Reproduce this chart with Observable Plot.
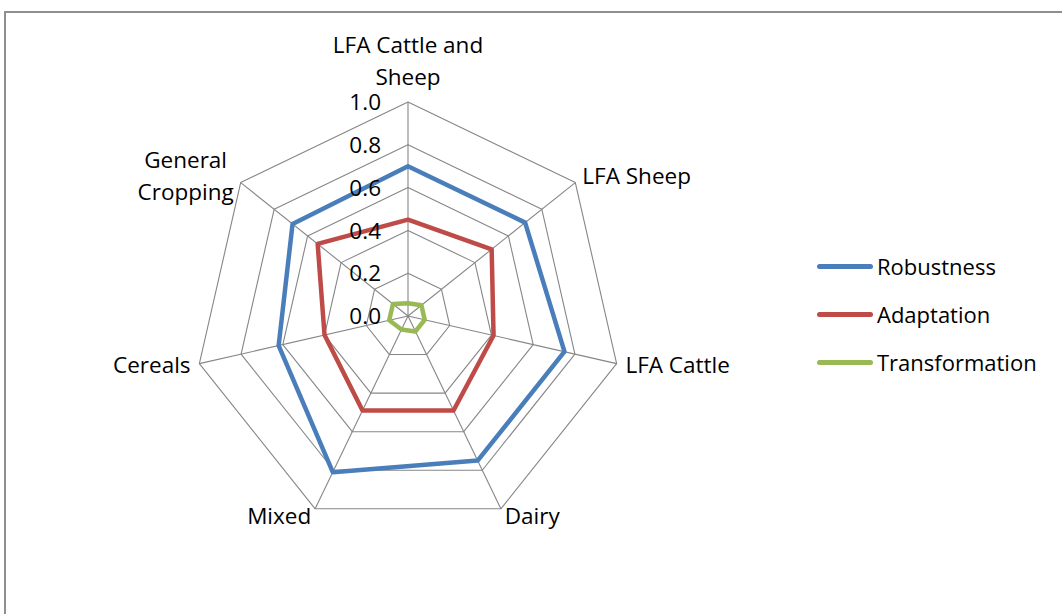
<!DOCTYPE html>
<html>
<head>
<meta charset="utf-8">
<script src="https://cdn.jsdelivr.net/npm/d3@7"></script>
<script src="https://cdn.jsdelivr.net/npm/@observablehq/plot@0.6"></script>
<style>
  html, body { margin: 0; padding: 0; background: #fff; overflow: hidden; }
  body { width: 1062px; height: 614px; position: relative; font-family: "Open Sans", sans-serif; }
  #frame { position: absolute; left: 4px; top: 11px; width: 1200px; height: 800px;
           border-left: 2px solid #8f8f8f; border-top: 2px solid #8f8f8f; box-sizing: border-box; }
  #chart { position: absolute; left: 0; top: 0; }
  #legend { position: absolute; left: 817px; top: 242px; font-size: 22px; color: #000; }
  .item { display: flex; align-items: center; height: 48px; }
  .swatch { width: 56px; height: 5px; border-radius: 3px; margin-right: 4px; }
</style>
</head>
<body>
<div id="frame"></div>
<div id="chart"></div>
<div id="legend"></div>
<script>
// ---- data ----
const categories = ["LFA Cattle and Sheep", "LFA Sheep", "LFA Cattle", "Dairy", "Mixed", "Cereals", "General Cropping"];
const categoryLabels = ["LFA Cattle and\nSheep", "LFA Sheep", "LFA Cattle", "Dairy", "Mixed", "Cereals", "General\nCropping"];
const seriesNames = ["Robustness", "Adaptation", "Transformation"];
const robustness = [0.70, 0.70, 0.75, 0.75, 0.81, 0.62, 0.69];
const adaptation = [0.45, 0.50, 0.41, 0.49, 0.49, 0.40, 0.54];
const transformation = [0.06, 0.08, 0.08, 0.08, 0.07, 0.09, 0.09];
const ticks = [0.0, 0.2, 0.4, 0.6, 0.8, 1.0];
const tickLabels = ["0.0", "0.2", "0.4", "0.6", "0.8", "1.0"];
const colors = ["#4A7EBB", "#BE4B48", "#98B954"];

// ---- geometry ----
const cx = 407.5, cy = 315.5, R = 214;
const n = categories.length;
const angle = i => (i * 2 * Math.PI) / n; // clockwise from top
const px = (r, i) => r * Math.sin(angle(i));
const py = (r, i) => r * Math.cos(angle(i));

const seriesValues = [robustness, adaptation, transformation];
const seriesData = seriesNames.flatMap((s, k) =>
  seriesValues[k].map((v, i) => ({series: s, cat: categories[i], x: px(v, i), y: py(v, i)})));

const ringData = ticks.filter(t => t > 0).flatMap(t =>
  categories.map((c, i) => ({ring: t, x: px(t, i), y: py(t, i)})));

const spokes = categories.map((c, i) => ({x1: 0, y1: 0, x2: px(1, i), y2: py(1, i)}));

// labels just outside the outer ring (offset in px converted to data units)
const labelOffset = 9 / R;
const labelData = categories.map((c, i) => {
  const s = Math.sin(angle(i)), co = Math.cos(angle(i));
  return {
    text: categoryLabels[i],
    x: px(1, i) + s * labelOffset,
    y: py(1, i) + co * labelOffset,
    anchor: Math.abs(s) < 0.1 ? "middle" : s > 0 ? "start" : "end",
    top: co > 0.9,
    multi: categoryLabels[i].includes("\n")
  };
});

const tickData = ticks.map((t, i) => ({x: 0, y: t, label: tickLabels[i]}));

const textStyle = {fill: "#000", fontSize: 22.5, lineHeight: 1.42};

const chart = Plot.plot({
  width: 1062,
  height: 614,
  margin: 0,
  style: {background: "transparent", fontFamily: "Open Sans, sans-serif", fontSize: "22px", color: "#000"},
  x: {domain: [-1, 1], range: [cx - R, cx + R], axis: null},
  y: {domain: [-1, 1], range: [cy + R, cy - R], axis: null},
  color: {domain: seriesNames, range: colors},
  marks: [
    Plot.line(ringData, {x: "x", y: "y", z: "ring", curve: "linear-closed", stroke: "#868686", strokeWidth: 1.1}),
    Plot.link(spokes, {x1: "x1", y1: "y1", x2: "x2", y2: "y2", stroke: "#868686", strokeWidth: 1.1}),
    Plot.line(seriesData, {x: "x", y: "y", z: "series", stroke: "series", curve: "linear-closed",
      strokeWidth: 4.5, strokeLinejoin: "round"}),
    Plot.text(tickData, {x: "x", y: "y", text: "label", textAnchor: "end", dx: -27, dy: -2, ...textStyle}),
    Plot.text(labelData.filter(d => !d.top && d.anchor === "start"), {x: "x", y: "y", text: "text",
      textAnchor: "start", lineAnchor: "middle", dy: -3, ...textStyle}),
    Plot.text(labelData.filter(d => !d.top && d.anchor === "end" && !d.multi), {x: "x", y: "y", text: "text",
      textAnchor: "end", lineAnchor: "middle", dy: -3, ...textStyle}),
    // multi-line side label: lines centred on each other, block right edge at the anchor point
    Plot.text(labelData.filter(d => !d.top && d.anchor === "end" && d.multi), {x: "x", y: "y", text: "text",
      textAnchor: "middle", lineAnchor: "middle", dx: -48, dy: -3, ...textStyle}),
    Plot.text(labelData.filter(d => d.top), {x: "x", y: "y", text: "text", dy: -8,
      textAnchor: "middle", lineAnchor: "bottom", ...textStyle})
  ]
});
document.getElementById("chart").append(chart);

// legend
const legend = document.getElementById("legend");
seriesNames.forEach((s, k) => {
  const item = document.createElement("div");
  item.className = "item";
  const sw = document.createElement("div");
  sw.className = "swatch";
  sw.style.background = colors[k];
  const tx = document.createElement("span");
  tx.textContent = s;
  item.append(sw, tx);
  legend.append(item);
});
</script>
</body>
</html>
